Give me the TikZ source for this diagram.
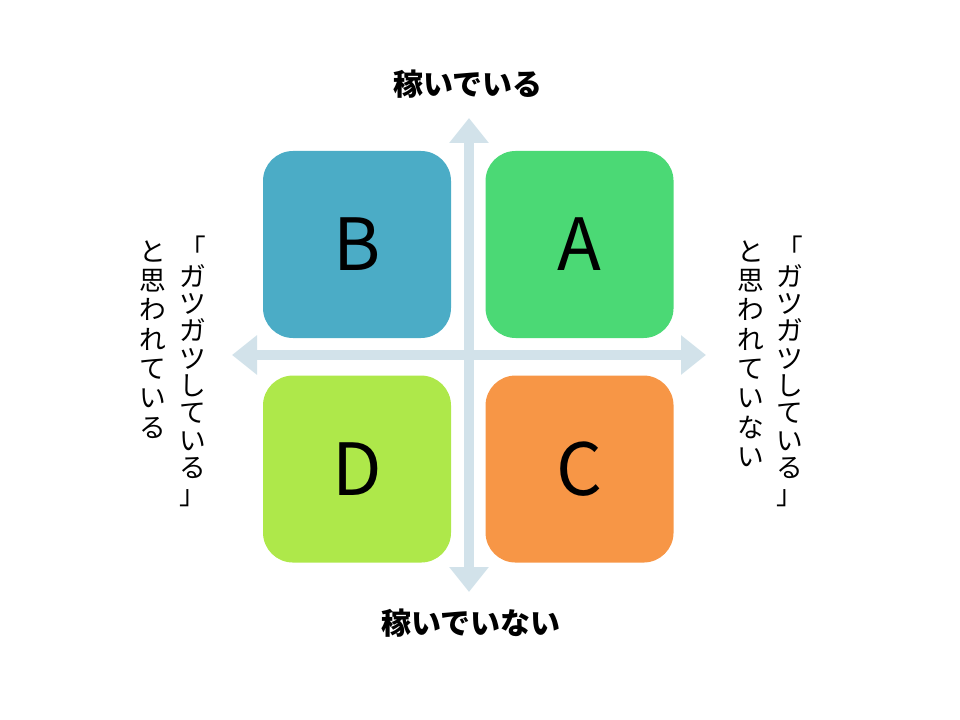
\documentclass[tikz,border=0pt]{standalone}
\usepackage{fontspec}
\setmainfont{Noto Sans CJK JP}
\usepackage{tikz}
\usetikzlibrary{arrows.meta,positioning}
\definecolor{quadA}{HTML}{4BD975}
\definecolor{quadB}{HTML}{4BACC6}
\definecolor{quadC}{HTML}{F79646}
\definecolor{quadD}{HTML}{AEE84A}
\definecolor{axiscol}{HTML}{D2E2EA}

\begin{document}
\begin{tikzpicture}[
    x=0.75pt, y=-0.75pt,
    node distance=27.75pt and 25.5pt,
    quad/.style={rounded corners=22.5pt, minimum width=141pt, minimum height=140.25pt, inner sep=0pt, font=\fontsize{54}{60}\selectfont},
    axis/.style={draw=axiscol, line width=7.5pt, {Triangle[length=18.75pt,width=28.5pt]}-{Triangle[length=18.75pt,width=28.5pt]}},
    caption/.style={inner sep=0pt, font=\bfseries\fontsize{22.5}{27}\selectfont},
    side/.style={anchor=north, align=center, inner sep=0pt, font=\fontsize{20}{20.5}\selectfont},
    sidewide/.style={side, font=\fontsize{20}{22}\selectfont}
  ]
    \useasboundingbox (0,0) rectangle (960,720);

    \coordinate (top) at (469,118);
    \coordinate (bottom) at (469,592);
    \coordinate (left) at (232,355);
    \coordinate (right) at (706,355);
    \draw[axis] (bottom) -- (top);
    \draw[axis] (left) -- (right);

    \node[quad, fill=quadB] (B) at (357,244.5) {B};
    \node[quad, fill=quadA, right=of B] (A) {A};
    \node[quad, fill=quadD, below=of B] (D) {D};
    \node[quad, fill=quadC, below=of A] (C) {C};

    \node[caption] (earn) at (468,84) {稼いでいる};
    \node[caption] (noearn) at (471,623) {稼いでいない};

    \node[side] (greedyL) at (193,236) {「\\ガ\\ツ\\ガ\\ツ\\し\\て\\い\\る\\」};
    \node[sidewide] (thoughtL) at (153,240) {と\\思\\わ\\れ\\て\\い\\る};
    \node[side] (greedyR) at (790,236) {「\\ガ\\ツ\\ガ\\ツ\\し\\て\\い\\る\\」};
    \node[sidewide] (thoughtR) at (751,240) {と\\思\\わ\\れ\\て\\い\\な\\い};
  \end{tikzpicture}
\end{document}
